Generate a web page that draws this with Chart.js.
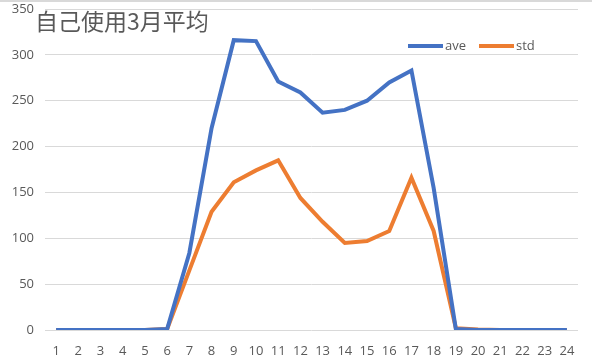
<!DOCTYPE html>
<html><head><meta charset="utf-8">
<script src="https://cdn.jsdelivr.net/npm/chart.js@4"></script>
<style>
html,body{margin:0;padding:0;background:#fff;}
#wrap{position:relative;width:592px;height:357px;border-top:2px solid #d9d9d9;box-sizing:border-box;}
canvas{display:block;}
</style></head><body>
<div id="wrap"><canvas id="c" width="592" height="355"></canvas></div>
<script>
const title = "自己使用3月平均";
const hours = ["1","2","3","4","5","6","7","8","9","10","11","12","13","14","15","16","17","18","19","20","21","22","23","24"];
const aveValues = [0,0,0,0,0,1,84,220,316,315,271,259,237,240,250,270,283,155,1,0,0,0,0,0];
const stdValues = [0,0,0,0,0,1,65,129,161,174,185,144,118,95,97,108,166,108,2,0.5,0,0,0,0];
const yTicks = [0,50,100,150,200,250,300,350];

const txt = '#595959';
const overlay = {
  id:'overlay',
  afterDraw(chart){
    const ctx = chart.ctx;
    ctx.save();
    ctx.fillStyle = txt;
    ctx.textBaseline = 'middle';
    ctx.font = '23px "Noto Sans CJK SC", sans-serif';
    ctx.fillText(title, 35, 19);
    const items = [{l:'ave',c:'#4472C4',x:408},{l:'std',c:'#ED7D31',x:479}];
    ctx.font = '13px "Open Sans", sans-serif';
    items.forEach(it=>{
      ctx.strokeStyle = it.c; ctx.lineWidth = 4; ctx.lineCap='butt';
      ctx.beginPath(); ctx.moveTo(it.x,44); ctx.lineTo(it.x+35,44); ctx.stroke();
      ctx.fillText(it.l, it.x+37, 44);
    });
    ctx.restore();
  }
};

new Chart(document.getElementById('c'), {
  type:'line',
  data:{labels:hours, datasets:[
    {label:'ave', data:aveValues, borderColor:'#4472C4', borderWidth:4, pointRadius:0, tension:0, fill:false},
    {label:'std', data:stdValues, borderColor:'#ED7D31', borderWidth:4, pointRadius:0, tension:0, fill:false}
  ]},
  options:{
    responsive:false, animation:false,
    layout:{padding:{top:7,right:14,left:0,bottom:0}},
    plugins:{legend:{display:false}, title:{display:false}, tooltip:{enabled:false}},
    scales:{
      x:{offset:true, grid:{display:false}, border:{display:false},
         ticks:{color:txt, font:{family:'"Open Sans", sans-serif', size:13}, padding:5, maxRotation:0, autoSkip:false},
         afterFit(s){s.height=27; s.paddingLeft=0; s.paddingRight=0;}},
      y:{min:0,max:350, afterBuildTicks(s){s.ticks=yTicks.map(v=>({value:v}));},
         grid:{color:'#d9d9d9', drawTicks:false, lineWidth:1}, border:{display:false},
         ticks:{color:txt, font:{family:'"Open Sans", sans-serif', size:13}, padding:11},
         afterFit(s){s.width=45; s.paddingTop=0; s.paddingBottom=0;}}
    }
  },
  plugins:[overlay]
});
</script></body></html>
